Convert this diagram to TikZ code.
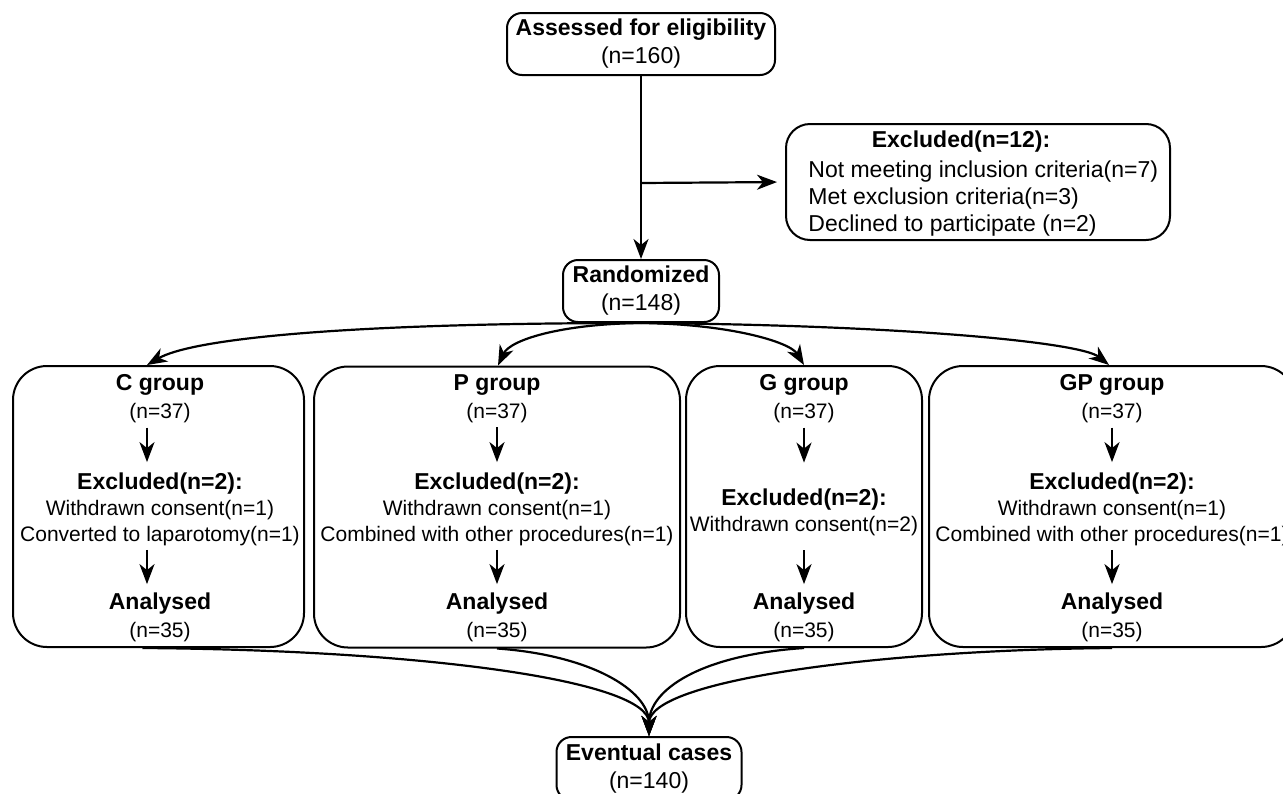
\documentclass[tikz,border=0pt]{standalone}
\usepackage{fontspec}
\setmainfont{Liberation Sans}
\usetikzlibrary{arrows.meta}
\newcommand\bt[1]{{\fontsize{11.5}{13}\selectfont\bfseries #1}}
\begin{document}
\begin{tikzpicture}[x=0.5pt,y=-0.5pt,
  arr/.style={line width=1.1pt,-{Stealth[length=10pt,width=7.5pt,inset=3pt]}},
  smallbox/.style={draw,line width=1pt,rounded corners=7.5pt,inner sep=0pt,align=center,font=\fontsize{11.5}{14}\selectfont},
  grpbox/.style={draw,line width=1pt,rounded corners=17pt,inner sep=0pt,minimum height=140.5pt},
  ttl/.style={inner sep=0pt,align=center,font=\fontsize{10.5}{14}\selectfont},
  exc/.style={inner sep=0pt,align=center,font=\fontsize{10.5}{13}\selectfont},
]
\useasboundingbox (0,0) rectangle (1283,793);

% top part
\node[smallbox,minimum width=134pt,minimum height=31pt] (assess) at (641,44) {\textbf{Assessed for eligibility}\\(n=160)};
\node[smallbox,minimum width=78pt,minimum height=31pt] (rand) at (641,291) {\textbf{Randomized}\\(n=148)};
\node[draw,line width=1pt,rounded corners=12pt,minimum width=192pt,minimum height=58pt] (excl) at (978,182) {};
\node[inner sep=0pt,font=\fontsize{11.5}{13}\selectfont\bfseries] (exclT) at (961,142) {Excluded(n=12):};
\node[inner sep=0pt,anchor=west,align=left,font=\fontsize{11.5}{13.3}\selectfont] (exclL) at (808,198.5) {Not meeting inclusion criteria(n=7)\\Met exclusion criteria(n=3)\\Declined to participate (n=2)};
\coordinate (br) at (641,183);
\draw[arr] (assess.south) -- (rand.north);
\draw[arr,shorten >=4pt] (br) -- (excl.west);

% groups
\node[grpbox,minimum width=145.5pt] (cbox) at (158.5,506.5) {};
\node[grpbox,minimum width=183pt] (pbox) at (497,507) {};
\node[grpbox,minimum width=118pt] (gbox) at (804,506.5) {};
\node[grpbox,minimum width=183pt] (gpbox) at (1112,506.5) {};

% C group
\node[ttl] (cT) at (160,399) {\bt{C group}\\(n=37)};
\node[exc] (cE) at (160,509) {\bt{Excluded(n=2):}\\Withdrawn consent(n=1)\\Converted to laparotomy(n=1)};
\node[ttl] (cA) at (160,617) {\bt{Analysed}\\(n=35)};
\draw[arr,shorten <=2pt,shorten >=5pt] ([xshift=-6.5pt]cT.south) -- ([xshift=-6.5pt]cE.north);
\draw[arr,shorten <=2pt,shorten >=4pt] ([xshift=-6.5pt]cE.south) -- ([xshift=-6.5pt]cA.north);

% P group
\node[ttl] (pT) at (497,399) {\bt{P group}\\(n=37)};
\node[exc] (pE) at (497,509) {\bt{Excluded(n=2):}\\Withdrawn consent(n=1)\\Combined with other procedures(n=1)};
\node[ttl] (pA) at (497,617) {\bt{Analysed}\\(n=35)};
\draw[arr,shorten <=2pt,shorten >=5pt] (pT.south) -- (pE.north);
\draw[arr,shorten <=2pt,shorten >=4pt] (pE.south) -- (pA.north);

% G group
\node[ttl] (gT) at (804,399) {\bt{G group}\\(n=37)};
\node[exc] (gE) at (804,512.5) {\bt{Excluded(n=2):}\\Withdrawn consent(n=2)};
\node[ttl] (gA) at (804,617) {\bt{Analysed}\\(n=35)};
\draw[arr,shorten <=2pt,shorten >=13pt] (gT.south) -- (gE.north);
\draw[arr,shorten <=7pt,shorten >=4pt] (gE.south) -- (gA.north);

% GP group
\node[ttl] (gpT) at (1112,399) {\bt{GP group}\\(n=37)};
\node[exc] (gpE) at (1112,509) {\bt{Excluded(n=2):}\\Withdrawn consent(n=1)\\Combined with other procedures(n=1)};
\node[ttl] (gpA) at (1112,617) {\bt{Analysed}\\(n=35)};
\draw[arr,shorten <=2pt,shorten >=5pt] (gpT.south) -- (gpE.north);
\draw[arr,shorten <=2pt,shorten >=4pt] (gpE.south) -- (gpA.north);

% from randomized to groups
\draw[arr] (rand.south) .. controls (330,323) and (190,340) .. ([xshift=-5.75pt]cbox.north);
\draw[arr] (rand.south) .. controls (560,324) and (510,340) .. ([xshift=0.5pt]pbox.north);
\draw[arr] (rand.south) .. controls (730,324) and (790,342) .. (gbox.north);
\draw[arr] (rand.south) .. controls (900,325) and (1080,342) .. ([xshift=-1.5pt]gpbox.north);

% eventual
\node[smallbox,minimum width=92.5pt,minimum height=31.5pt] (evt) at (649,768.5) {\textbf{Eventual cases}\\(n=140)};
\draw[arr] ([xshift=-8pt]cbox.south) .. controls (420,650) and (649,680) .. (evt.north);
\draw[arr] (pbox.south) .. controls (590,655) and (649,690) .. (evt.north);
\draw[arr] (gbox.south) .. controls (700,655) and (649,690) .. (evt.north);
\draw[arr] (gpbox.south) .. controls (880,650) and (649,680) .. (evt.north);
\end{tikzpicture}
\end{document}
